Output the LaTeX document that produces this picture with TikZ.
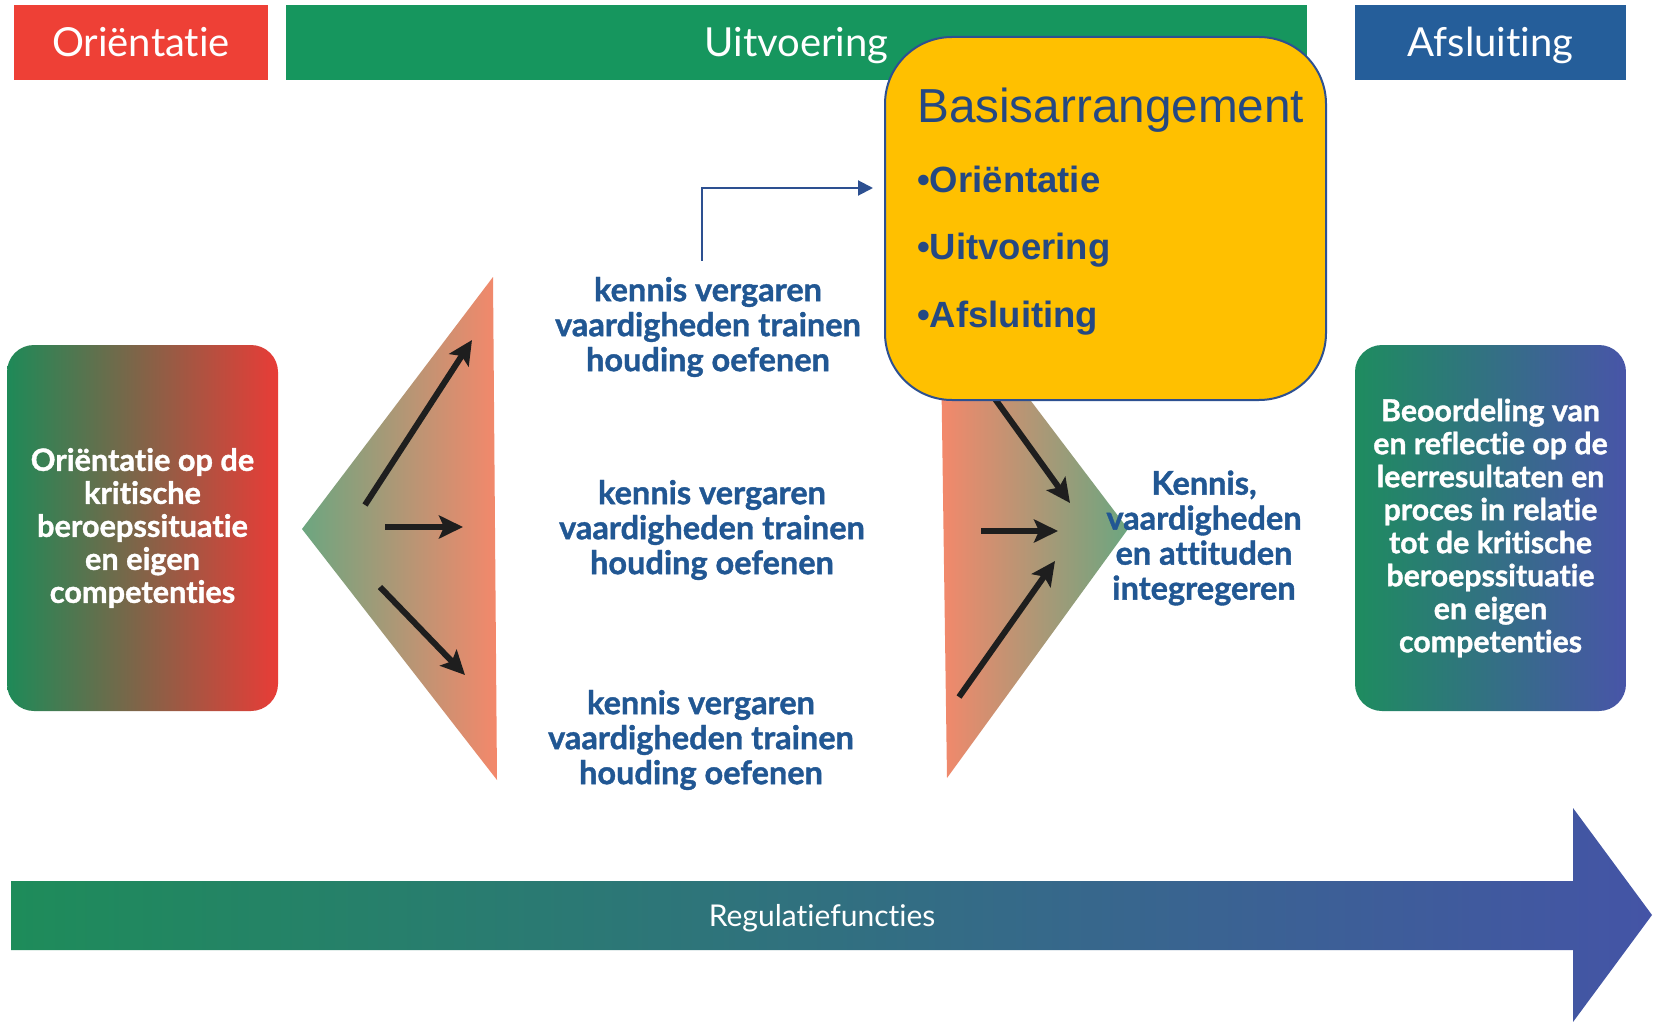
\documentclass[tikz,border=0pt]{standalone}
\usepackage{fontspec}
\setmainfont{Lato}[Ligatures=NoCommon, BoldFeatures={FakeBold=1.2}]
\newfontfamily\arialfont{Liberation Sans}
\usetikzlibrary{arrows.meta}
\definecolor{hdrred}{RGB}{238,64,54}
\definecolor{hdrgreen}{RGB}{22,150,94}
\definecolor{hdrblue}{RGB}{37,94,154}
\definecolor{lgreen}{RGB}{30,138,88}
\definecolor{lred}{RGB}{232,60,55}
\definecolor{rgreen}{RGB}{30,140,95}
\definecolor{rmid}{RGB}{38,98,165}
\definecolor{rpurple}{RGB}{72,85,168}
\definecolor{trigreen}{RGB}{108,166,128}
\definecolor{salmon}{RGB}{244,136,107}
\definecolor{arrowblack}{RGB}{30,30,30}
\definecolor{midblue}{RGB}{33,87,147}
\definecolor{ytext}{RGB}{37,72,130}
\definecolor{yfill}{RGB}{255,192,0}
\definecolor{ybord}{RGB}{45,80,145}
\definecolor{bgreen}{RGB}{30,140,90}
\definecolor{bmid}{RGB}{35,105,150}
\definecolor{bright}{RGB}{68,84,166}
\begin{document}
\begin{tikzpicture}[x=1pt,y=-1pt,
  hdr/.style={draw=none, minimum height=75pt, inner sep=0pt, text=white,
    font=\fontsize{40}{48}\selectfont, text height=29pt, text depth=0pt},
  sidebox/.style={rounded corners=27pt, minimum width=271pt, minimum height=366pt,
    inner sep=0pt, text=white, align=center},
  midtext/.style={text=midblue, align=center, inner sep=0pt,
    font=\bfseries\fontsize{32.5}{35}\selectfont},
  bigarrow/.style={line width=6pt, draw=arrowblack,
    -{Stealth[length=24pt,width=23pt,inset=5pt]}},
  conn/.style={line width=2pt, draw=ybord, -{Triangle[length=15pt,width=15pt]}},
  ybox/.style={draw=ybord, line width=2pt, fill=yfill, rounded corners=67pt,
    minimum width=441pt, minimum height=363pt, inner sep=0pt},
  ylabel/.style={anchor=base west, inner sep=0pt, text=ytext}
]
\useasboundingbox (0,0) rectangle (1655,1022);
\fill[white] (0,0) rectangle (1655,1022);

% headers
\node[hdr, fill=hdrred, minimum width=254pt] (hor) at (141,42.5) {Oriëntatie};
\node[hdr, fill=hdrgreen, minimum width=1021pt] (huit) at (796.5,42.5) {Uitvoering};
\node[hdr, fill=hdrblue, minimum width=271pt] (hafs) at (1490.5,42.5) {Afsluiting};

% side boxes
\node[sidebox, left color=lgreen, right color=lred,
  font=\bfseries\fontsize{30.7}{33}\selectfont] (orbox) at (142.5,528)
  {Oriëntatie op de\\kritische\\beroepssituatie\\en eigen\\competenties};
\node[sidebox, left color=rgreen, middle color=rmid, right color=rpurple,
  font=\bfseries\fontsize{30.3}{33}\selectfont] (afbox) at (1490.5,528)
  {Beoordeling van\\en reflectie op de\\leerresultaten en\\proces in relatie\\tot de kritische\\beroepssituatie\\en eigen\\competenties};

% triangles
\path[left color=trigreen, right color=salmon] (302,529) -- (493,277) -- (497,780) -- cycle;
\path[left color=salmon, right color=trigreen] (940,281) -- (1128,529) -- (947,778) -- cycle;

% arrows in left triangle
\coordinate (la1s) at (365,505); \coordinate (la1e) at (472,340);
\coordinate (la2s) at (385,527); \coordinate (la2e) at (463,527);
\coordinate (la3s) at (380,587); \coordinate (la3e) at (465,675);
\draw[bigarrow] (la1s) -- (la1e);
\draw[bigarrow] (la2s) -- (la2e);
\draw[bigarrow] (la3s) -- (la3e);

% arrows in right triangle
\coordinate (ra1s) at (985,385); \coordinate (ra1e) at (1070,503);
\coordinate (ra2s) at (981,531); \coordinate (ra2e) at (1058,531);
\coordinate (ra3s) at (959,697); \coordinate (ra3e) at (1055,561);
\draw[bigarrow] (ra1s) -- (ra1e);
\draw[bigarrow] (ra2s) -- (ra2e);
\draw[bigarrow] (ra3s) -- (ra3e);

% middle texts
\node[midtext] (g1) at (708,327) {kennis vergaren\\vaardigheden trainen\\houding oefenen};
\node[midtext] (g2) at (712,530) {kennis vergaren\\vaardigheden trainen\\houding oefenen};
\node[midtext] (g3) at (701,740) {kennis vergaren\\vaardigheden trainen\\houding oefenen};
\node[midtext] (kennis) at (1204,538) {Kennis,\\vaardigheden\\en attituden\\integregeren};

% bottom arrow
\path[left color=bgreen, middle color=bmid, right color=bright]
  (11,881) -- (1573,881) -- (1573,808) -- (1652,915) -- (1573,1022) -- (1573,950) -- (11,950) -- cycle;
\node[text=white, inner sep=0pt, font=\fontsize{30}{36}\selectfont] (reg) at (822,918) {Regulatiefuncties};

% yellow box
\node[ybox] (basis) at (1105.5,218.5) {};
\node[ylabel, font=\arialfont\fontsize{47.7}{52}\selectfont] (btitle) at (917,123) {Basisarrangement};
\node[ylabel, font=\arialfont\bfseries\fontsize{36.5}{40}\selectfont] (bor) at (917,193) {•Oriëntatie};
\node[ylabel, font=\arialfont\bfseries\fontsize{36.5}{40}\selectfont] (buit) at (917,259) {•Uitvoering};
\node[ylabel, font=\arialfont\bfseries\fontsize{36.5}{40}\selectfont] (bafs) at (917,327) {•Afsluiting};

% connector
\coordinate (cbend) at (702,188);
\draw[conn] ([yshift=16pt]g1.north -| cbend) -- (cbend) -- ([xshift=-11pt]basis.west |- cbend);
\end{tikzpicture}
\end{document}
